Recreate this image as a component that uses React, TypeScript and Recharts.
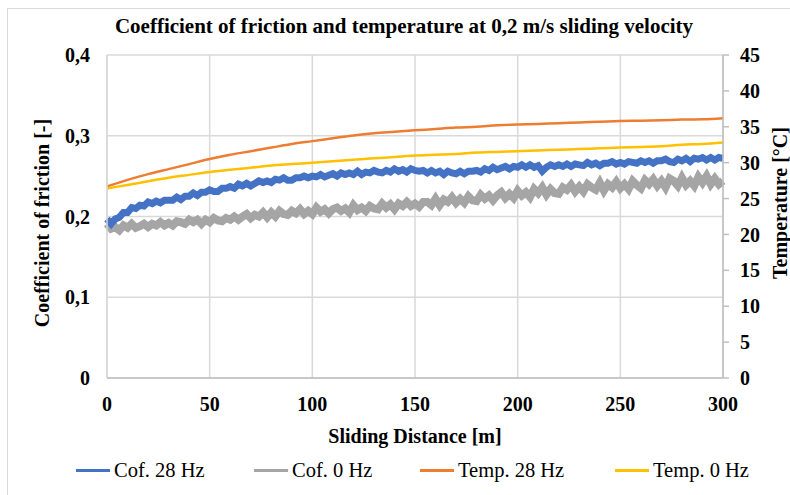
import { LineChart, Line, XAxis, YAxis, CartesianGrid } from 'recharts';

// distances in metres
const cofDistance = Array.from({ length: 151 }, (_, i) => i * 2);
const tempDistance = Array.from({ length: 31 }, (_, i) => i * 10);

// coefficient of friction, 28 Hz vibration (every 2 m)
const cof28 = [
  0.197, 0.191, 0.197, 0.199, 0.205, 0.205, 0.211, 0.210, 0.214, 0.213,
  0.218, 0.216, 0.219, 0.217, 0.220, 0.220, 0.220, 0.224, 0.221, 0.225,
  0.225, 0.229, 0.226, 0.230, 0.230, 0.233, 0.231, 0.231, 0.235, 0.235,
  0.237, 0.235, 0.240, 0.238, 0.241, 0.238, 0.241, 0.244, 0.242, 0.244,
  0.242, 0.246, 0.245, 0.248, 0.245, 0.245, 0.248, 0.248, 0.250, 0.248,
  0.250, 0.249, 0.252, 0.249, 0.251, 0.253, 0.250, 0.254, 0.252, 0.254,
  0.252, 0.256, 0.252, 0.255, 0.254, 0.257, 0.255, 0.254, 0.257, 0.255,
  0.259, 0.256, 0.258, 0.255, 0.259, 0.257, 0.256, 0.257, 0.254, 0.257,
  0.254, 0.256, 0.252, 0.256, 0.254, 0.253, 0.256, 0.253, 0.256, 0.256,
  0.257, 0.255, 0.259, 0.257, 0.261, 0.258, 0.260, 0.262, 0.259, 0.262,
  0.261, 0.264, 0.261, 0.264, 0.261, 0.263, 0.256, 0.261, 0.264, 0.262,
  0.264, 0.262, 0.265, 0.262, 0.265, 0.264, 0.263, 0.267, 0.264, 0.266,
  0.263, 0.266, 0.266, 0.268, 0.265, 0.267, 0.265, 0.268, 0.267, 0.266,
  0.269, 0.267, 0.269, 0.266, 0.269, 0.269, 0.271, 0.268, 0.267, 0.271,
  0.269, 0.272, 0.268, 0.272, 0.271, 0.273, 0.270, 0.273, 0.270, 0.273,
  0.272,
];

// coefficient of friction, no vibration (every 2 m)
const cof0 = [
  0.191, 0.185, 0.187, 0.183, 0.189, 0.186, 0.191, 0.186, 0.188, 0.191,
  0.187, 0.191, 0.189, 0.193, 0.189, 0.192, 0.189, 0.194, 0.193, 0.191,
  0.196, 0.193, 0.196, 0.191, 0.196, 0.193, 0.198, 0.195, 0.194, 0.198,
  0.196, 0.200, 0.196, 0.200, 0.203, 0.198, 0.202, 0.200, 0.205, 0.199,
  0.205, 0.200, 0.207, 0.203, 0.202, 0.207, 0.204, 0.209, 0.203, 0.207,
  0.203, 0.211, 0.206, 0.209, 0.204, 0.209, 0.211, 0.207, 0.210, 0.205,
  0.214, 0.208, 0.211, 0.207, 0.213, 0.210, 0.209, 0.216, 0.211, 0.215,
  0.209, 0.216, 0.213, 0.218, 0.213, 0.216, 0.212, 0.218, 0.218, 0.214,
  0.222, 0.214, 0.221, 0.218, 0.224, 0.217, 0.222, 0.217, 0.225, 0.220,
  0.219, 0.227, 0.222, 0.226, 0.220, 0.226, 0.230, 0.223, 0.228, 0.223,
  0.232, 0.226, 0.230, 0.224, 0.234, 0.229, 0.236, 0.227, 0.234, 0.229,
  0.228, 0.236, 0.233, 0.239, 0.231, 0.237, 0.231, 0.240, 0.236, 0.233,
  0.242, 0.232, 0.240, 0.236, 0.243, 0.235, 0.240, 0.234, 0.244, 0.239,
  0.235, 0.245, 0.240, 0.246, 0.238, 0.244, 0.236, 0.247, 0.244, 0.238,
  0.248, 0.239, 0.244, 0.238, 0.249, 0.242, 0.250, 0.240, 0.247, 0.240,
  0.244,
];

// temperature [°C] (every 10 m)
const temp28 = [
  26.7, 27.6, 28.4, 29.1, 29.8, 30.5, 31.1, 31.6, 32.1, 32.6,
  33.0, 33.4, 33.8, 34.1, 34.3, 34.5, 34.7, 34.9, 35.0, 35.2,
  35.3, 35.4, 35.5, 35.6, 35.7, 35.8, 35.85, 35.9, 36.0, 36.05,
  36.2,
];
const temp0 = [
  26.4, 26.9, 27.4, 27.9, 28.3, 28.7, 29.0, 29.3, 29.6, 29.8,
  30.0, 30.2, 30.4, 30.6, 30.8, 31.0, 31.1, 31.2, 31.4, 31.5,
  31.6, 31.7, 31.8, 31.9, 32.0, 32.1, 32.2, 32.3, 32.5, 32.6,
  32.8,
];

const xTicks = [0, 50, 100, 150, 200, 250, 300];
const cofTicks = [0, 0.1, 0.2, 0.3, 0.4];
const tempTicks = [0, 5, 10, 15, 20, 25, 30, 35, 40, 45];

const legendNames = ['Cof. 28 Hz', 'Cof. 0 Hz', 'Temp. 28 Hz', 'Temp. 0 Hz'];
const colors = ['#4472C4', '#A5A5A5', '#ED7D31', '#FFC000'];
const legendLeft = [76, 254, 420, 615];

const toRows = (xs: number[], ys: number[]) => xs.map((x, i) => ({ x, v: ys[i] }));

const FONT = '"Liberation Serif", serif';
const GRID = '#d9d9d9';
const AXIS = '#bfbfbf';

const tickStyle = { fill: '#000', fontSize: 20, fontWeight: 700, fontFamily: FONT };
const boldText = { fontFamily: FONT, fontWeight: 700, fontSize: 20, color: '#000' };

const fmtCof = (v: number) => (v === 0 ? '0' : v.toFixed(1).replace('.', ','));

export default function App() {
  return (
    <div style={{ position: 'absolute', left: 0, top: 0, width: 790, height: 495, background: '#fff', overflow: 'hidden', fontFamily: FONT }}>
      <div style={{ position: 'absolute', left: 7, top: 8, width: 800, height: 500, borderLeft: `1px solid ${GRID}`, borderTop: `1px solid ${GRID}` }} />
      <div style={{ ...boldText, fontSize: 21, position: 'absolute', left: 0, width: 808, top: 14, textAlign: 'center' }}>
        Coefficient of friction and temperature at 0,2 m/s sliding velocity
      </div>
      <LineChart width={790} height={495} margin={{ top: 55, right: 17, left: 47, bottom: 77 }}>
        <CartesianGrid stroke={GRID} strokeWidth={1.5} yAxisId="cof" verticalValues={xTicks} />
        <XAxis
          type="number"
          dataKey="x"
          domain={[0, 300]}
          ticks={xTicks}
          height={40}
          axisLine={{ stroke: AXIS, strokeWidth: 1.5 }}
          tickLine={false}
          tickSize={6}
          tickMargin={13}
          tick={tickStyle}
        />
        <YAxis
          yAxisId="cof"
          domain={[0, 0.4]}
          ticks={cofTicks}
          width={60}
          axisLine={{ stroke: GRID, strokeWidth: 1.5 }}
          tickLine={false}
          tickSize={6}
          tickMargin={11}
          tick={tickStyle}
          tickFormatter={fmtCof}
        />
        <YAxis
          yAxisId="temp"
          orientation="right"
          domain={[0, 45]}
          ticks={tempTicks}
          width={50}
          axisLine={{ stroke: AXIS, strokeWidth: 1.5 }}
          tickLine={{ stroke: AXIS, strokeWidth: 1.5 }}
          tickSize={6}
          tickMargin={11}
          tick={tickStyle}
        />
        <Line yAxisId="cof" data={toRows(cofDistance, cof0)} dataKey="v" stroke={colors[1]} strokeWidth={8} dot={false} isAnimationActive={false} type="linear" />
        <Line yAxisId="cof" data={toRows(cofDistance, cof28)} dataKey="v" stroke={colors[0]} strokeWidth={7} dot={false} isAnimationActive={false} type="linear" />
        <Line yAxisId="temp" data={toRows(tempDistance, temp28)} dataKey="v" stroke={colors[2]} strokeWidth={2.5} dot={false} isAnimationActive={false} type="monotone" />
        <Line yAxisId="temp" data={toRows(tempDistance, temp0)} dataKey="v" stroke={colors[3]} strokeWidth={2.5} dot={false} isAnimationActive={false} type="monotone" />
      </LineChart>
      <div style={{ ...boldText, position: 'absolute', left: 42, top: 223, transform: 'translate(-50%, -50%) rotate(-90deg)', whiteSpace: 'nowrap' }}>
        Coefficient of friction [-]
      </div>
      <div style={{ ...boldText, position: 'absolute', left: 780, top: 203, transform: 'translate(-50%, -50%) rotate(-90deg)', whiteSpace: 'nowrap' }}>
        Temperature [°C]
      </div>
      <div style={{ ...boldText, position: 'absolute', left: 0, width: 830, top: 425, textAlign: 'center' }}>
        Sliding Distance [m]
      </div>
      {legendNames.map((name, i) => (
        <div key={name} style={{ position: 'absolute', left: legendLeft[i], top: 459, display: 'flex', alignItems: 'center', fontFamily: FONT, fontSize: 20.5, color: '#000', whiteSpace: 'nowrap' }}>
          <span style={{ display: 'inline-block', width: 34, height: 3, background: colors[i], marginRight: 4 }} />
          {name}
        </div>
      ))}
    </div>
  );
}
